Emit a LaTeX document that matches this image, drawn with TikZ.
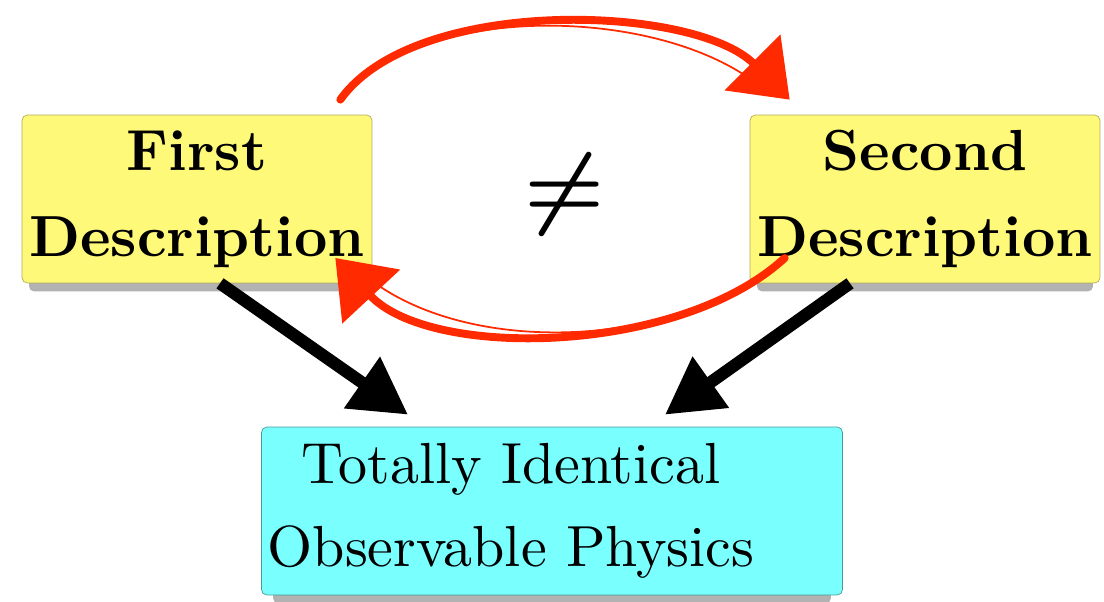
\documentclass[tikz,border=0pt]{standalone}
\usepackage{fontspec}
\setmainfont{lmroman10}[Extension=.otf, UprightFont=*-regular, BoldFont=*-bold, ItalicFont=*-italic]
\usepackage{tikz}
\usetikzlibrary{arrows.meta,calc,shadows}
\definecolor{descyellow}{HTML}{FFF97A}
\definecolor{physcyan}{HTML}{7AFFFF}
\definecolor{sketchred}{HTML}{FF2A00}
\tikzset{
  bx/.style={rounded corners=3pt, align=center, minimum height=3.36cm, inner sep=2pt,
    drop shadow={shadow xshift=0pt, shadow yshift=-7pt, shadow scale=0.96, opacity=0.3, fill=black}},
  desc/.style={bx, draw=descyellow!70!black, fill=descyellow, minimum width=7cm, font=\fontsize{33}{49}\selectfont\bfseries},
  phys/.style={bx, draw=physcyan!60!black, fill=physcyan, minimum width=11.62cm, font=\fontsize{33}{47}\selectfont},
  arr/.style={-{Triangle[length=32pt, width=34pt]}, line width=7pt, color=black},
  swap/.style={-{Triangle[length=30pt, width=44pt]}, line width=4.5pt, color=sketchred, line cap=round},
  strand/.style={line width=1pt, color=sketchred, line cap=round},
}

\begin{document}
\begin{tikzpicture}[x=0.02cm, y=0.02cm]
  \useasboundingbox (0,0) rectangle (1104,-601);
  \node[desc] (first) at (197,-199) {First\\Description};
  \node[desc] (second) at (925,-199) {Second\\Description};
  \node[phys] (obs) at (552,-511) {\hspace*{-1.64cm}Totally Identical\\\hspace*{-1.64cm}Observable Physics};
  \node[scale=2.1, font=\fontsize{24.88}{30}\selectfont\boldmath] (neq) at (565,-195) {$\neq$};
  \draw[arr] ($(first.south)+(23,0)$) -- ($(obs.north)+(-144,12)$);
  \draw[arr] ($(second.south)+(-75,0)$) -- ($(obs.north)+(113,12)$);
  \draw[swap] ($(first.north east)+(-32,15)$) .. controls +(75,105) and +(-95,95) .. ($(second.north west)+(40,15)$);
  \draw[strand] ($(first.north east)+(-28,17)$) .. controls +(75,98) and +(-95,90) .. ($(second.north west)+(20,20)$);
  \draw[swap] ($(second.west)+(35,-59)$) .. controls +(-105,-97) and +(95,-102) .. ($(first.east)+(-37,-59)$);
  \draw[strand] ($(second.west)+(28,-63)$) .. controls +(-105,-90) and +(95,-95) .. ($(first.east)+(-20,-65)$);
\end{tikzpicture}
\end{document}
